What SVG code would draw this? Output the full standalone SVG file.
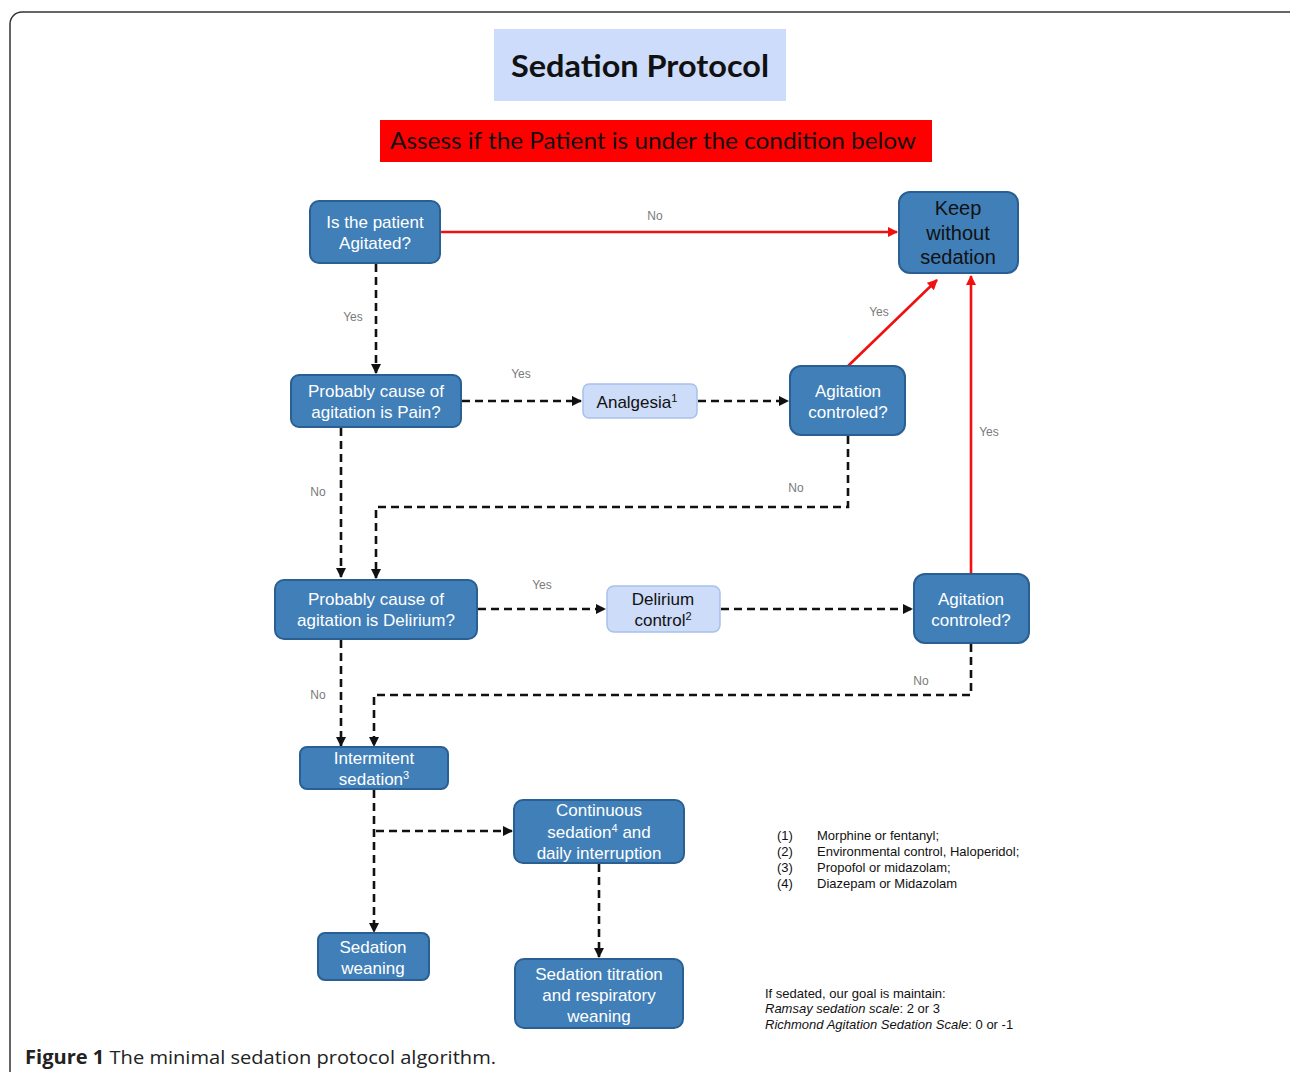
<svg xmlns="http://www.w3.org/2000/svg" width="1290" height="1072" viewBox="0 0 1290 1072">
<style>
.dark{fill:#417fb8;stroke:#2a5f93;stroke-width:2}
.light{fill:#cddcf8;stroke:#a8c1ea;stroke-width:1.5}
.wt{font-family:"Liberation Sans",Arial,sans-serif;font-size:17px;fill:#fff;text-anchor:middle}
.bt{font-family:"Liberation Sans",Arial,sans-serif;font-size:17px;fill:#111;text-anchor:middle}
.big{font-size:20px}
.lbl{font-family:"Liberation Sans",Arial,sans-serif;font-size:12px;fill:#7a7a7a;text-anchor:middle}
.dash{fill:none;stroke:#111;stroke-width:2.6;stroke-dasharray:8 5}
.red{fill:none;stroke:#f01010;stroke-width:2.6}
.leg{font-family:"Liberation Sans",Arial,sans-serif;font-size:13px;fill:#111}
</style>
<defs>
<marker id="ab" viewBox="0 0 10 10" refX="9" refY="5" markerWidth="4" markerHeight="4" orient="auto" markerUnits="strokeWidth"><path d="M0,0 L10,5 L0,10 z" fill="#111"/></marker>
<marker id="ar" viewBox="0 0 10 10" refX="9" refY="5" markerWidth="4" markerHeight="4" orient="auto" markerUnits="strokeWidth"><path d="M0,0 L10,5 L0,10 z" fill="#f01010"/></marker>
</defs>
<rect x="0" y="0" width="1290" height="1072" fill="#fff"/>
<rect x="10" y="12" width="1300" height="1100" rx="12" fill="none" stroke="#333" stroke-width="1.5"/>

<g id="title">
<rect x="494" y="29" width="292" height="72" fill="#cddcfa"/>
<text x="640" y="77" font-family="Lato,'Liberation Sans',sans-serif" font-weight="bold" font-size="31" text-anchor="middle" fill="#111" textLength="258" lengthAdjust="spacingAndGlyphs">Sedation Protocol</text>
</g>
<g id="banner">
<rect x="380" y="120" width="552" height="42" fill="#ff0000"/>
<text x="653" y="149" font-family="Lato,'Liberation Sans',sans-serif" font-size="24" text-anchor="middle" fill="#111" textLength="526" lengthAdjust="spacingAndGlyphs">Assess if the Patient is under the condition below</text>
</g>

<g id="connectors">
<path class="red" d="M440,232 H897" marker-end="url(#ar)"/>
<text class="lbl" x="655" y="220">No</text>
<path class="dash" d="M376,264 V373" marker-end="url(#ab)"/>
<text class="lbl" x="353" y="321">Yes</text>
<path class="dash" d="M462,401 H581" marker-end="url(#ab)"/>
<text class="lbl" x="521" y="378">Yes</text>
<path class="dash" d="M698,401 H788" marker-end="url(#ab)"/>
<path class="red" d="M848,366 L937,280" marker-end="url(#ar)"/>
<text class="lbl" x="879" y="316">Yes</text>
<path class="dash" d="M848,436 V507 H376 V578" marker-end="url(#ab)"/>
<text class="lbl" x="796" y="492">No</text>
<path class="dash" d="M341,428 V577" marker-end="url(#ab)"/>
<text class="lbl" x="318" y="496">No</text>
<path class="dash" d="M478,609 H605" marker-end="url(#ab)"/>
<text class="lbl" x="542" y="589">Yes</text>
<path class="dash" d="M721,609 H912" marker-end="url(#ab)"/>
<path class="red" d="M971,574 V276" marker-end="url(#ar)"/>
<text class="lbl" x="989" y="436">Yes</text>
<path class="dash" d="M971,644 V695 H374 V746" marker-end="url(#ab)"/>
<text class="lbl" x="921" y="685">No</text>
<path class="dash" d="M341,640 V746" marker-end="url(#ab)"/>
<text class="lbl" x="318" y="699">No</text>
<path class="dash" d="M374,790 V932" marker-end="url(#ab)"/>
<path class="dash" d="M376,831 H512" marker-end="url(#ab)"/>
<path class="dash" d="M599,864 V957" marker-end="url(#ab)"/>
</g>

<g id="n1"><rect class="dark" x="310" y="201" width="130" height="62" rx="9"/>
<text class="wt" x="375" y="228">Is the patient</text><text class="wt" x="375" y="249">Agitated?</text></g>
<g id="n2"><rect class="dark" x="899" y="192" width="119" height="81" rx="11"/>
<text class="bt big" x="958" y="215">Keep</text><text class="bt big" x="958" y="240">without</text><text class="bt big" x="958" y="264">sedation</text></g>
<g id="n3"><rect class="dark" x="291" y="375" width="170" height="52" rx="8"/>
<text class="wt" x="376" y="397">Probably cause of</text><text class="wt" x="376" y="418">agitation is Pain?</text></g>
<g id="n4"><rect class="light" x="583" y="384" width="114" height="34" rx="6"/>
<text class="bt" x="637" y="408">Analgesia<tspan font-size="11" dy="-6">1</tspan></text></g>
<g id="n5"><rect class="dark" x="790" y="366" width="115" height="69" rx="11"/>
<text class="wt" x="848" y="397">Agitation</text><text class="wt" x="848" y="418">controled?</text></g>
<g id="n6"><rect class="dark" x="275" y="580" width="202" height="59" rx="9"/>
<text class="wt" x="376" y="605">Probably cause of</text><text class="wt" x="376" y="626">agitation is Delirium?</text></g>
<g id="n7"><rect class="light" x="607" y="586" width="113" height="46" rx="7"/>
<text class="bt" x="663" y="605">Delirium</text><text class="bt" x="663" y="626">control<tspan font-size="11" dy="-6">2</tspan></text></g>
<g id="n8"><rect class="dark" x="914" y="574" width="115" height="69" rx="11"/>
<text class="wt" x="971" y="605">Agitation</text><text class="wt" x="971" y="626">controled?</text></g>
<g id="n9"><rect class="dark" x="300" y="747" width="148" height="42" rx="7"/>
<text class="wt" x="374" y="764">Intermitent</text><text class="wt" x="374" y="785">sedation<tspan font-size="11" dy="-6">3</tspan></text></g>
<g id="n10"><rect class="dark" x="514" y="800" width="170" height="63" rx="9"/>
<text class="wt" x="599" y="816">Continuous</text><text class="wt" x="599" y="838">sedation<tspan font-size="11" dy="-6">4</tspan><tspan dy="6">  and</tspan></text><text class="wt" x="599" y="859">daily interruption</text></g>
<g id="n11"><rect class="dark" x="318" y="933" width="111" height="47" rx="7"/>
<text class="wt" x="373" y="953">Sedation</text><text class="wt" x="373" y="974">weaning</text></g>
<g id="n12"><rect class="dark" x="515" y="959" width="168" height="69" rx="9"/>
<text class="wt" x="599" y="980">Sedation titration</text><text class="wt" x="599" y="1001">and respiratory</text><text class="wt" x="599" y="1022">weaning</text></g>

<g id="legend">
<text class="leg" x="777" y="840">(1)</text><text class="leg" x="817" y="840">Morphine or fentanyl;</text>
<text class="leg" x="777" y="856">(2)</text><text class="leg" x="817" y="856">Environmental control, Haloperidol;</text>
<text class="leg" x="777" y="872">(3)</text><text class="leg" x="817" y="872">Propofol or midazolam;</text>
<text class="leg" x="777" y="888">(4)</text><text class="leg" x="817" y="888">Diazepam or Midazolam</text>
<text class="leg" x="765" y="998">If sedated, our goal is maintain:</text>
<text class="leg" x="765" y="1013"><tspan font-style="italic">Ramsay sedation scale</tspan>: 2 or 3</text>
<text class="leg" x="765" y="1029"><tspan font-style="italic">Richmond Agitation Sedation Scale</tspan>: 0 or -1</text>
</g>

<text x="25" y="1064" font-family="'Open Sans','Liberation Sans',sans-serif" font-size="19" fill="#222" textLength="471" lengthAdjust="spacingAndGlyphs"><tspan font-weight="bold">Figure 1</tspan> The minimal sedation protocol algorithm.</text>
</svg>
